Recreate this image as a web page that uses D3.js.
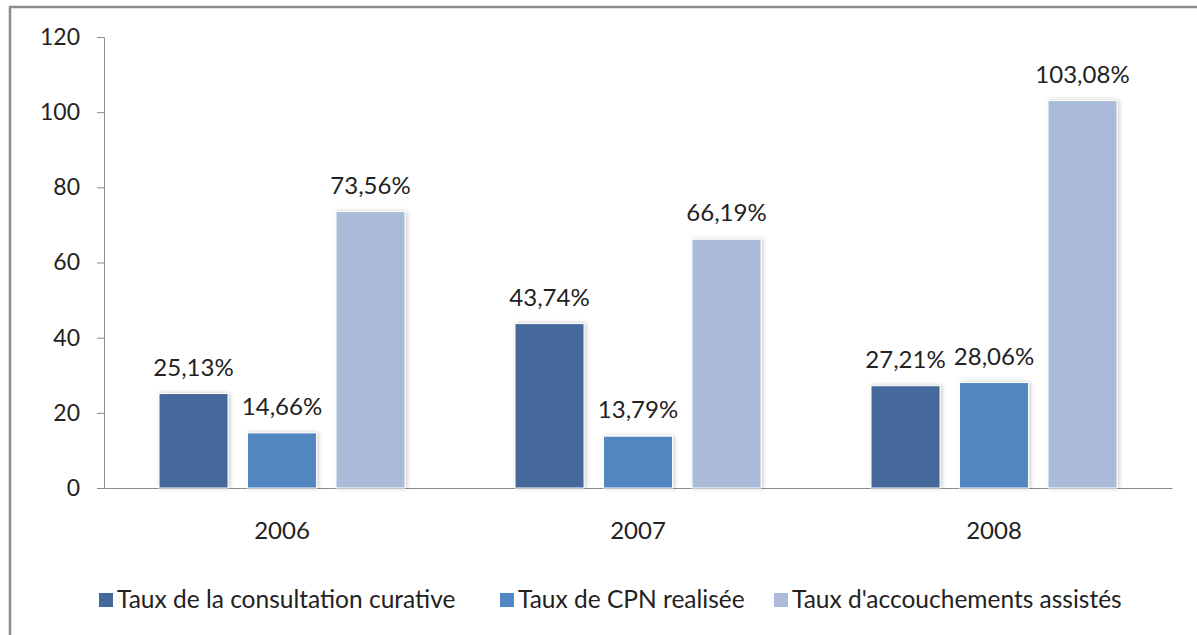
<!DOCTYPE html>
<html>
<head>
<meta charset="utf-8">
<script src="https://cdn.jsdelivr.net/npm/d3@7"></script>
<style>
  body { margin: 0; background: #fff; }
  svg text { font-family: Lato, "Open Sans", sans-serif; fill: #222; }
</style>
</head>
<body>
<svg id="chart" width="1197" height="635"></svg>
<script>
// chart data
const years = ['2006', '2007', '2008'];
const seriesNames = ['Taux de la consultation curative', 'Taux de CPN realisée', "Taux d'accouchements assistés"];
const curative = [25.13, 43.74, 27.21];
const cpn = [14.66, 13.79, 28.06];
const accouchements = [73.56, 66.19, 103.08];
const yTicks = [0, 20, 40, 60, 80, 100, 120];

const colors = ['#44699b', '#5186c1', '#aabbd9'];
const seriesValues = [curative, cpn, accouchements];

const width = 1197, height = 635;
const svg = d3.select('#chart');

// outer frame (runs off the right/bottom edge like the original)
svg.append('rect')
  .attr('x', 10).attr('y', 7)
  .attr('width', 1200).attr('height', 640)
  .attr('fill', 'none')
  .attr('stroke', '#8c8c8c')
  .attr('stroke-width', 2.5);

// soft shadow for the bars
const defs = svg.append('defs');
const f = defs.append('filter').attr('id', 'shadow')
  .attr('x', '-20%').attr('y', '-10%').attr('width', '140%').attr('height', '120%');
f.append('feDropShadow')
  .attr('dx', 1.5).attr('dy', 0).attr('stdDeviation', 2)
  .attr('flood-color', '#000').attr('flood-opacity', 0.22);

const plot = { left: 104, right: 1172, top: 37, bottom: 488 };

const y = d3.scaleLinear().domain([0, 120]).range([plot.bottom, plot.top]);
const x0 = d3.scaleBand().domain(years).range([plot.left, plot.right]);
const groupW = 246;
const off = (x0.bandwidth() - groupW) / 2;
const x1 = d3.scaleBand().domain(d3.range(3)).range([off, off + groupW]).paddingInner(0.22);

// y axis
const yAxis = svg.append('g')
  .attr('transform', `translate(${plot.left},0)`)
  .call(d3.axisLeft(y).tickValues(yTicks).tickSize(7).tickPadding(17));
yAxis.select('.domain').attr('stroke', '#8c8c8c');
yAxis.selectAll('.tick line').attr('stroke', '#8c8c8c');
yAxis.selectAll('.tick text').style('font-size', '23px').attr('fill', '#222');

// x axis (line and category labels, no ticks)
const xAxis = svg.append('g')
  .attr('transform', `translate(0,${plot.bottom})`)
  .call(d3.axisBottom(x0).tickSize(0).tickPadding(34));
xAxis.select('.domain').attr('stroke', '#8c8c8c');
xAxis.selectAll('.tick text').style('font-size', '24px').attr('fill', '#222');

// bars
const rows = [];
years.forEach((yr, i) => {
  seriesValues.forEach((vals, s) => rows.push({ year: yr, s: s, v: vals[i] }));
});

const fmt = v => v.toFixed(2).replace('.', ',') + '%';

svg.append('g').selectAll('rect')
  .data(rows)
  .enter()
  .append('rect')
  .attr('x', d => x0(d.year) + x1(d.s))
  .attr('y', d => y(d.v))
  .attr('width', x1.bandwidth())
  .attr('height', d => y(0) - y(d.v))
  .attr('fill', d => colors[d.s])
  .attr('stroke', '#fff')
  .attr('stroke-width', 1)
  .attr('filter', 'url(#shadow)');

svg.append('g').selectAll('text')
  .data(rows)
  .enter()
  .append('text')
  .attr('x', d => x0(d.year) + x1(d.s) + x1.bandwidth() / 2)
  .attr('y', d => y(d.v) - 18)
  .attr('text-anchor', 'middle')
  .style('font-size', '24px')
  .text(d => fmt(d.v));

// legend
const legendX = [99, 500, 774];
const legend = svg.append('g');
seriesNames.forEach((name, i) => {
  legend.append('rect')
    .attr('x', legendX[i]).attr('y', 593)
    .attr('width', 14).attr('height', 14)
    .attr('fill', colors[i]);
  legend.append('text')
    .attr('x', legendX[i] + 18).attr('y', 608)
    .style('font-size', '24.5px')
    .text(name);
});
</script>
</body>
</html>
